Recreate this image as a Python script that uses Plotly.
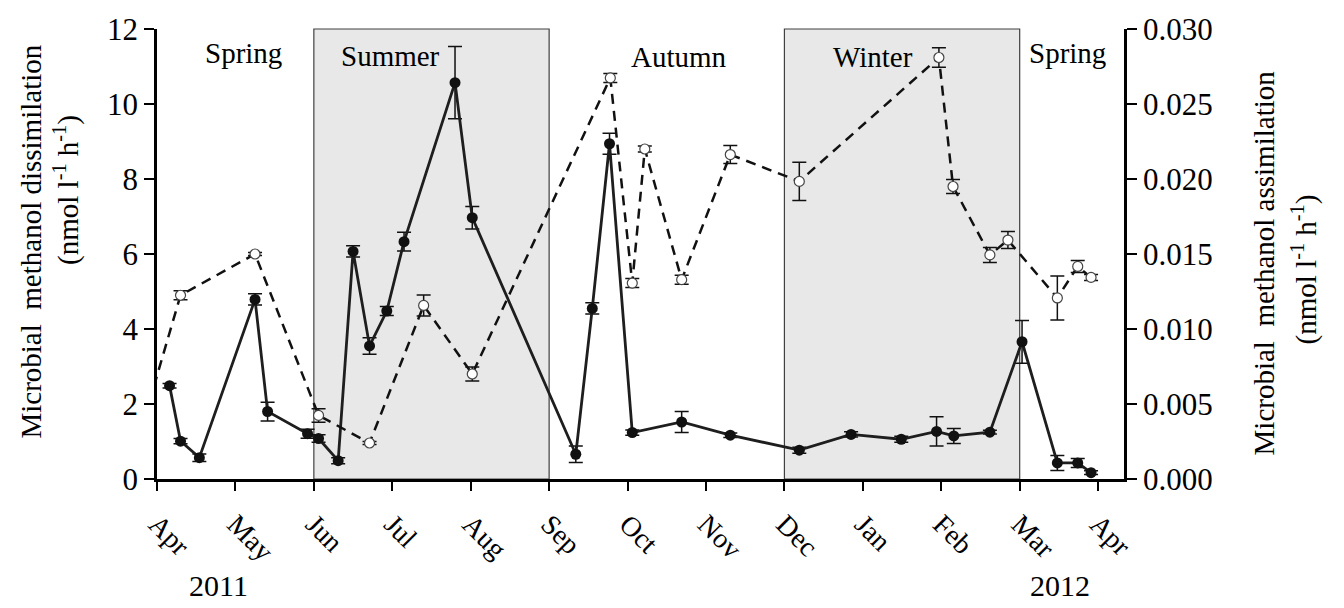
import plotly.graph_objects as go

# ---- data (x in months since 1 Apr 2011) ----
month_ticks = list(range(13))
month_labels = ["Apr", "May", "Jun", "Jul", "Aug", "Sep", "Oct", "Nov", "Dec", "Jan", "Feb", "Mar", "Apr"]

diss_x = [0.16, 0.30, 0.54, 1.25, 1.41, 1.92, 2.06, 2.31, 2.50, 2.71, 2.93, 3.15, 3.80, 4.02,
          5.34, 5.55, 5.77, 6.06, 6.69, 7.31, 8.19, 8.85, 9.49, 9.94, 10.16, 10.62, 11.03,
          11.48, 11.74, 11.91]
diss = [2.49, 1.01, 0.57, 4.79, 1.80, 1.21, 1.08, 0.49, 6.07, 3.55, 4.48, 6.33, 10.57, 6.97,
        0.66, 4.55, 8.94, 1.24, 1.52, 1.17, 0.77, 1.19, 1.06, 1.27, 1.15, 1.25, 3.66,
        0.43, 0.43, 0.17]
diss_err = [0.06, 0.07, 0.10, 0.15, 0.25, 0.12, 0.10, 0.08, 0.15, 0.22, 0.12, 0.25, 0.96, 0.30,
            0.22, 0.15, 0.28, 0.07, 0.28, 0.06, 0.08, 0.07, 0.08, 0.39, 0.20, 0.05, 0.57,
            0.20, 0.12, 0.05]

assim_x = [-0.10, 0.30, 1.25, 2.06, 2.71, 3.40, 4.02, 5.78, 6.06, 6.22, 6.69, 7.31, 8.19,
           9.97, 10.15, 10.62, 10.85, 11.48, 11.74, 11.91]
assim = [0.0051, 0.01225, 0.0150, 0.00424, 0.0024, 0.01157, 0.0070, 0.02674, 0.01306, 0.0220,
         0.01329, 0.02163, 0.01984, 0.0281, 0.0195, 0.01494, 0.01593, 0.01207, 0.01417, 0.01344]
assim_err = [0, 0.0003, 0.0001, 0.00045, 0.0001, 0.0007, 0.00046, 0.0003, 0.0003, 0.0002,
             0.0003, 0.0006, 0.00127, 0.00065, 0.00046, 0.0005, 0.00057, 0.00147, 0.0004, 0.0002]

seasons = ["Spring", "Summer", "Autumn", "Winter", "Spring"]
season_x = [1.10, 2.98, 6.65, 9.13, 11.61]
season_y = [0.947, 0.940, 0.938, 0.938, 0.947]
shaded = [(2, 5), (8, 11)]
years = ["2011", "2012"]
year_x = [0.78, 11.52]

FONT = "Liberation Serif"

fig = go.Figure()

fig.add_trace(go.Scatter(
    x=diss_x, y=diss, mode="lines+markers", yaxis="y",
    line=dict(color="#1e1e1e", width=2.8),
    marker=dict(symbol="circle", size=11, color="#111111"),
    error_y=dict(type="data", array=diss_err, visible=True, color="#111111", thickness=1.5, width=7),
    showlegend=False,
))

fig.add_trace(go.Scatter(
    x=assim_x, y=assim, mode="lines+markers", yaxis="y2",
    line=dict(color="#111111", width=2.5, dash="10px,7px"),
    marker=dict(symbol="circle", size=10, color="white", line=dict(color="#444444", width=1.2)),
    error_y=dict(type="data", array=assim_err, visible=True, color="#111111", thickness=1.5, width=7),
    showlegend=False,
))

for x0, x1 in shaded:
    fig.add_shape(type="rect", xref="x", yref="paper", x0=x0, x1=x1, y0=0, y1=1,
                  fillcolor="#e8e8e8", line=dict(color="#404040", width=1.2), layer="below")

annotations = []
for s, sx, sy in zip(seasons, season_x, season_y):
    annotations.append(dict(text=s, x=sx, y=sy, xref="x", yref="paper", showarrow=False,
                            font=dict(family=FONT, size=29, color="black"),
                            xanchor="center", yanchor="middle"))
for yl, yx in zip(years, year_x):
    annotations.append(dict(text=yl, x=yx, y=-0.236, xref="x", yref="paper", showarrow=False,
                            font=dict(family=FONT, size=30, color="black"),
                            xanchor="center", yanchor="middle"))

# axis titles (positions given in page pixels, converted below)
annotations += [
    dict(text="Microbial  methanol dissimilation", x=31, y=240, showarrow=False, textangle=-90,
         font=dict(family=FONT, size=29, color="black")),
    dict(text="(nmol l<sup>-1</sup> h<sup>-1</sup>)", x=67, y=188, showarrow=False, textangle=-90,
         font=dict(family=FONT, size=29, color="black")),
    dict(text="Microbial  methanol assimilation", x=1264, y=262, showarrow=False, textangle=-90,
         font=dict(family=FONT, size=29, color="black")),
    dict(text="(nmol l<sup>-1</sup> h<sup>-1</sup>)", x=1304, y=268, showarrow=False, textangle=-90,
         font=dict(family=FONT, size=29, color="black")),
]

L, R, T, B, W, H = 157, 220, 26, 129, 1344, 608
pw, ph = W - L - R, H - T - B
for a in annotations[-4:]:
    a["xref"] = "paper"
    a["yref"] = "paper"
    a["x"] = (a["x"] - L) / pw
    a["y"] = (H - B - a["y"]) / ph
    a["xanchor"] = "center"
    a["yanchor"] = "middle"

fig.update_layout(
    width=W, height=H,
    margin=dict(l=L, r=R, t=T, b=B, pad=0),
    paper_bgcolor="white", plot_bgcolor="white",
    font=dict(family=FONT, color="black"),
    annotations=annotations,
    xaxis=dict(range=[0, 12.33], tickmode="array", tickvals=month_ticks, ticktext=month_labels,
               tickangle=45, ticks="outside", ticklen=9, tickwidth=2, tickcolor="black",
               ticklabelstandoff=6,
               showline=True, linecolor="black", linewidth=2.5, showgrid=False, zeroline=False,
               tickfont=dict(family=FONT, size=28, color="black")),
    yaxis=dict(range=[0, 12], tickmode="array", tickvals=[0, 2, 4, 6, 8, 10, 12],
               ticks="outside", ticklen=10, tickwidth=2, tickcolor="black",
               showline=True, linecolor="black", linewidth=2.5, showgrid=False, zeroline=False,
               tickfont=dict(family=FONT, size=31, color="black")),
    yaxis2=dict(range=[0, 0.030], overlaying="y", side="right", anchor="x",
                tickmode="array", tickvals=[0, 0.005, 0.010, 0.015, 0.020, 0.025, 0.030],
                tickformat=".3f",
                ticks="outside", ticklen=10, tickwidth=2, tickcolor="black",
                showline=True, linecolor="black", linewidth=2.5, showgrid=False, zeroline=False,
                tickfont=dict(family=FONT, size=31, color="black")),
)

fig.write_html(
    "out.html",
    config={"displayModeBar": False},
    post_script="document.body.style.margin='0';document.body.style.padding='0';document.body.style.overflow='hidden';",
)
